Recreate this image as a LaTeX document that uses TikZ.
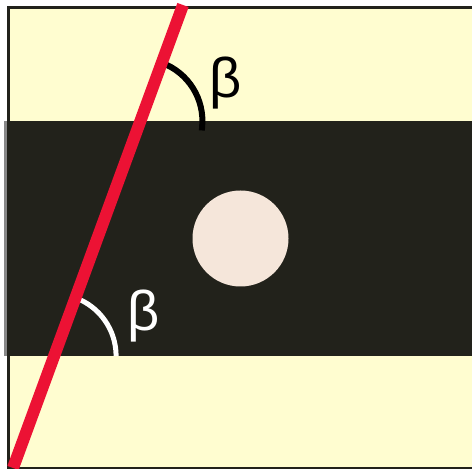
\documentclass[tikz,border=0pt]{standalone}
\usepackage{fontspec}
\newfontfamily\betafont{Liberation Sans}
\definecolor{paper}{RGB}{255,253,208}
\definecolor{band}{RGB}{34,34,27}
\definecolor{disc}{RGB}{245,230,218}
\definecolor{ray}{RGB}{236,18,52}
\definecolor{edge}{RGB}{136,136,136}
\tikzset{
  betalabel/.style={inner sep=0pt, font=\betafont\fontsize{56}{60}\selectfont},
  anglearc/.style={line width=6pt}
}
\begin{document}
\begin{tikzpicture}[x=1pt,y=1pt]
\useasboundingbox (0,0) rectangle (472,469);
\fill[white] (0,0) rectangle (472,469);
% paper
\fill[paper] (7,0) rectangle (472,463);
% dark band
\fill[band] (7,113) rectangle (472,348);
\fill[edge] (4,113) rectangle (7,348);
% frame
\fill[band] (7,460) rectangle (472,463);
\fill[band] (7,0) rectangle (10,463);
\fill[band] (7,113) rectangle (10,348);
\fill[band] (7,0) rectangle (472,2);
% disc
\fill[disc] (240.5,230.5) circle[radius=48];
% angle arcs
\coordinate (topcross) at (140.4,348);
\coordinate (botcross) at (54.1,113);
\draw[anglearc, black, line cap=rect] ([shift={(69.8:62)}]topcross) arc[start angle=69.8, end angle=-6, radius=62];
\draw[anglearc, white, line width=5pt] ([shift={(69.8:62)}]botcross) arc[start angle=69.8, end angle=0, radius=62];
% red ray
\coordinate (raybot) at (13,1);
\coordinate (raytop) at (183,464);
\draw[ray, line width=12pt] (raybot) -- (raytop);
% labels
\node[betalabel, text=black] (betatop) at (226,386) {β};
\node[betalabel, text=white] (betabot) at (144,153) {β};
\end{tikzpicture}
\end{document}
